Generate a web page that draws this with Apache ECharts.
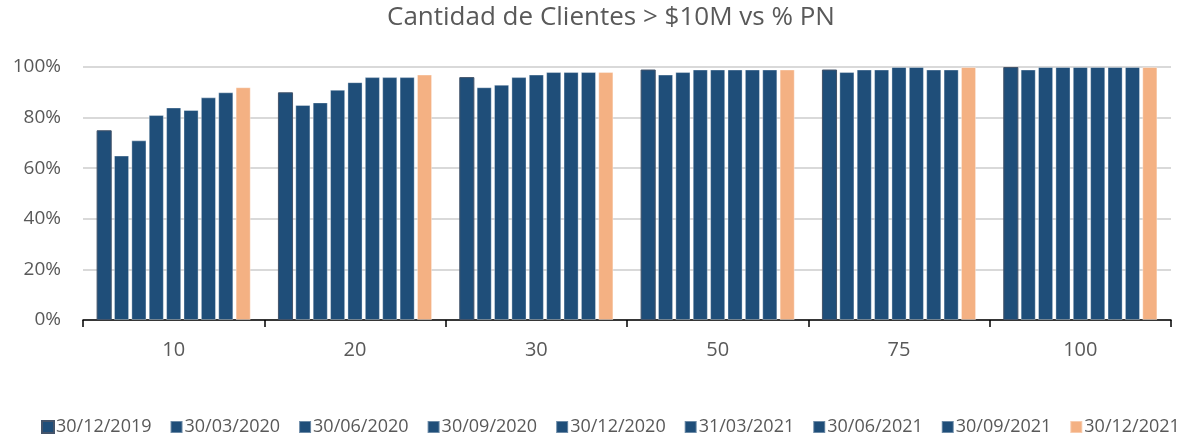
<!DOCTYPE html>
<html>
<head>
<meta charset="utf-8">
<script src="https://cdn.jsdelivr.net/npm/echarts@6/dist/echarts.min.js"></script>
<style>
  html, body { margin: 0; padding: 0; background: #fff; }
  #chart { width: 1193px; height: 443px; }
</style>
</head>
<body>
<div id="chart"></div>
<script>
var categories = ['10', '20', '30', '50', '75', '100'];
var seriesNames = ['30/12/2019', '30/03/2020', '30/06/2020', '30/09/2020', '30/12/2020',
    '31/03/2021', '30/06/2021', '30/09/2021', '30/12/2021'];
// one array per date, values per category (in %)
var d20191230 = [75, 90, 96, 99, 99, 100];
var d20200330 = [65, 85, 92, 97, 98, 99];
var d20200630 = [71, 86, 93, 98, 99, 100];
var d20200930 = [81, 91, 96, 99, 99, 100];
var d20201230 = [84, 94, 97, 99, 100, 100];
var d20210331 = [83, 96, 98, 99, 100, 100];
var d20210630 = [88, 96, 98, 99, 99, 100];
var d20210930 = [90, 96, 98, 99, 99, 100];
var d20211230 = [92, 97, 98, 99, 100, 100];
var yTicks = [0, 20, 40, 60, 80, 100];

var values = [d20191230, d20200330, d20200630, d20200930, d20201230,
    d20210331, d20210630, d20210930, d20211230];

var blue = '#1f4e79';
var orange = '#f4b183';
var txt = '#595959';

var myChart = echarts.init(document.getElementById('chart'));

var series = values.map(function (data, i) {
    var isLast = i === values.length - 1;
    return {
        name: seriesNames[i],
        type: 'bar',
        data: data,
        barGap: '15%',
        barCategoryGap: '15%',
        itemStyle: {
            color: isLast ? orange : blue,
            borderColor: i === 0 ? '#44546a' : 'rgba(255,255,255,0.35)',
            borderWidth: 1
        }
    };
});

var option = {
    animation: false,
    title: {
        text: 'Cantidad de Clientes > $10M vs % PN',
        left: 382,
        top: 0,
        textStyle: {
            color: txt,
            fontSize: 26,
            fontWeight: 'normal',
            fontFamily: 'Open Sans'
        }
    },
    legend: {
        data: seriesNames,
        bottom: 2,
        left: 36,
        itemWidth: 12,
        itemHeight: 12,
        itemGap: 18,
        icon: 'rect',
        textStyle: {
            color: txt,
            fontSize: 18,
            fontFamily: 'Open Sans',
            padding: [0, 0, 0, -3]
        }
    },
    grid: {
        left: 83,
        right: 22,
        top: 67,
        bottom: 123
    },
    xAxis: {
        type: 'category',
        data: categories,
        axisLine: { lineStyle: { color: '#000', width: 1.5 } },
        axisTick: { show: true, length: 7, lineStyle: { color: '#000', width: 1.5 } },
        axisLabel: {
            color: txt,
            fontSize: 20,
            margin: 20,
            fontFamily: 'Open Sans'
        }
    },
    yAxis: {
        type: 'value',
        min: yTicks[0],
        max: yTicks[yTicks.length - 1],
        interval: 20,
        axisLine: { show: false },
        axisTick: { show: false },
        axisLabel: {
            color: txt,
            fontSize: 19,
            margin: 22,
            fontFamily: 'Open Sans',
            formatter: '{value}%'
        },
        splitLine: { lineStyle: { color: '#d9d9d9', width: 2 } }
    },
    series: series
};

myChart.setOption(option);
window.onresize = function () {
    myChart.resize();
};
</script>
</body>
</html>
